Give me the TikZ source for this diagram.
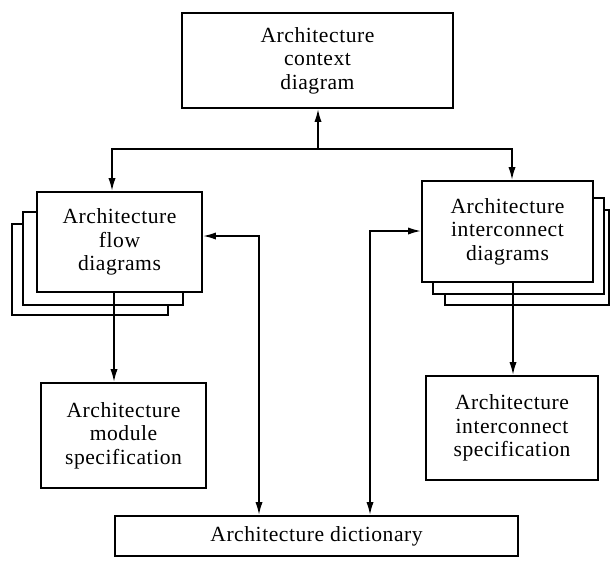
\documentclass[tikz,border=0pt]{standalone}
\usepackage{fontspec}
\setmainfont{Liberation Serif}[LetterSpace=2.5]
\usetikzlibrary{arrows.meta}
\begin{document}
\begin{tikzpicture}[x=0.5pt,y=-0.5pt,
  line width=0.9pt,
  box/.style={draw, fill=white, inner sep=0pt, align=center,
    font=\fontsize{10.8}{11.8}\selectfont},
  tip/.style={-{Latex[length=6.5pt,width=3.6pt]}},
  tips/.style={{Latex[length=6.5pt,width=3.6pt]}-{Latex[length=6.5pt,width=3.6pt]}}]
\useasboundingbox (0,0) rectangle (611,563);
\clip (0,0) rectangle (611,563);

% top context box
\node[box, minimum width=135.5pt, minimum height=47.5pt] (ctx) at (317.5,60.5)
  {Architecture\\context\\diagram};

% stacked flow diagrams
\node[box, minimum width=78pt, minimum height=45.5pt] (flowc) at (90,269.5) {};
\node[box, minimum width=80pt, minimum height=46.5pt] (flowb) at (103,258.5) {};
\node[box, minimum width=82.5pt, minimum height=50pt] (flow) at (119.5,242)
  {Architecture\\flow\\diagrams};

% stacked interconnect diagrams
\node[box, minimum width=82pt, minimum height=47.5pt] (icdc) at (527,257.5) {};
\node[box, minimum width=85.5pt, minimum height=48pt] (icdb) at (518.5,246) {};
\node[box, minimum width=85.5pt, minimum height=50.5pt] (icd) at (507.5,231.5)
  {Architecture\\interconnect\\diagrams};

% specifications and dictionary
\node[box, minimum width=82.5pt, minimum height=52.5pt] (mod) at (123.5,435.5)
  {Architecture\\module\\specification};
\node[box, minimum width=86pt, minimum height=52pt] (spec) at (512,428)
  {Architecture\\interconnect\\specification};
\node[box, minimum width=201.5pt, minimum height=20pt] (dict) at (316.5,536)
  {Architecture dictionary};

% distribution line below the context box
\coordinate (j) at (318,149);
\coordinate (jl) at (112,149);
\coordinate (jr) at (512,149);
\draw[tip] (j) -- (j |- ctx.south);
\draw[tip] (j) -- (jl) -- (jl |- flow.north);
\draw[tip] (j) -- (jr) -- (jr |- icd.north);

% diagrams to specifications
\coordinate (fm) at (114,300);
\coordinate (is) at (513,300);
\draw[tip] (fm |- flow.south) -- (fm |- mod.north);
\draw[tip] (is |- icd.south) -- (is |- spec.north);

% links to the dictionary
\coordinate (fd) at (259,236);
\coordinate (id) at (370,231);
\draw[tips] (fd -| flow.east) -- (fd) -- (fd |- dict.north);
\draw[tips] (id -| icd.west) -- (id) -- (id |- dict.north);
\end{tikzpicture}
\end{document}
